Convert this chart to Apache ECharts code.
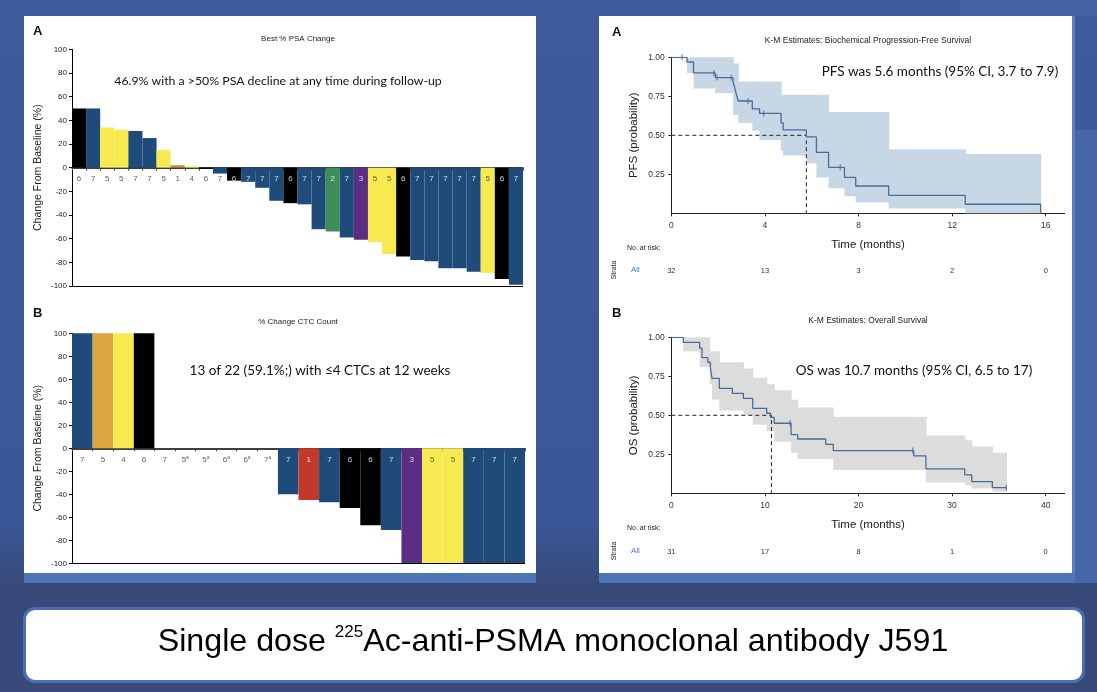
<!DOCTYPE html>
<html><head><meta charset="utf-8">
<script src="https://cdn.jsdelivr.net/npm/echarts@6/dist/echarts.min.js"></script>
<style>
html,body{margin:0;padding:0;}
body{width:1097px;height:692px;position:relative;overflow:hidden;background:linear-gradient(#3d5a9b 0%,#3b5797 75%,#374a7a 85%,#36487a 100%);}
.bx{position:absolute;}
#c{position:absolute;left:0;top:0;width:1097px;height:692px;}
</style>
</head><body>
<div class="bx" style="left:960px;top:0;width:137px;height:16px;background:#4562a2"></div>
<div class="bx" style="left:1075px;top:130px;width:22px;height:460px;background:#4766a6"></div>
<div class="bx" style="left:0;top:583px;width:1097px;height:109px;background:#374a7a"></div>
<div class="bx" style="left:24px;top:16px;width:512px;height:557px;background:#fff"></div>
<div class="bx" style="left:24px;top:573px;width:512px;height:10px;background:#4d76b7"></div>
<div class="bx" style="left:599px;top:16px;width:473px;height:557px;background:#fff;border-right:3px solid #5a7dbf"></div>
<div class="bx" style="left:599px;top:573px;width:476px;height:10px;background:#4d76b7"></div>
<div class="bx" style="left:23px;top:607px;width:1056px;height:70px;background:#fff;border:3px solid #4d6db6;border-radius:12px"></div>
<div id="c"></div>
<script>
// ---------------- data ----------------
const psaGroups = ['6','7','5','5','7','7','5','1','4','6','7','6','7','7','7','6','7','7','2','7','3','5','5','6','7','7','7','7','7','5','6','7'];
const psaChange = [50,50,34,32,31,25,15,2,1,-1,-5,-11,-12,-17,-28,-30,-31,-52,-54,-59,-61,-63,-73,-75,-78,-79,-85,-85,-88,-89,-94,-99];
const ctcGroups = ['7','5','4','6','7','5','5','6','6','7','7','1','7','6','6','7','3','5','5','7','7','7'];
const ctcFootnote = [0,0,0,0,0,1,1,1,1,1,0,0,0,0,0,0,0,0,0,0,0,0];
const ctcChange = [100,100,100,100,0,0,0,0,0,0,-40,-45,-47,-52,-67,-71,-100,-100,-100,-100,-100,-100];

const pfsCurve = [[0,1],[0.67,0.97],[0.95,0.90],[1.88,0.87],[2.64,0.84],[2.70,0.81],[2.75,0.78],[2.80,0.75],[2.86,0.72],[3.46,0.67],[3.77,0.64],[4.69,0.58],[4.78,0.535],[5.77,0.49],[6.20,0.39],[6.72,0.295],[7.40,0.23],[7.88,0.175],[9.29,0.115],[12.56,0.058],[15.78,0]];
const pfsCensorT = [0.46,1.82,1.95,2.56,3.28,3.95,7.22];
const pfsCensorS = [1,0.90,0.87,0.87,0.72,0.64,0.295];
const pfsBandT  = [0.67,0.95,1.88,2.64,2.86,3.46,3.77,4.69,4.78,5.77,6.20,6.72,7.40,7.88,9.29,12.56,15.78];
const pfsBandLo = [0.90,0.80,0.77,0.63,0.58,0.53,0.47,0.40,0.37,0.32,0.23,0.16,0.11,0.07,0.03,0,0];
const pfsBandHi = [1,1,1,0.96,0.845,0.845,0.845,0.76,0.76,0.76,0.76,0.65,0.65,0.65,0.41,0.38,0.38];
const pfsMedian = 5.77;
const pfsRiskT = [0,4,8,12,16];
const pfsRisk  = [32,13,3,2,0];

const osCurve = [[0,1],[1.28,0.967],[3.03,0.93],[3.28,0.87],[3.90,0.84],[4.17,0.806],[4.35,0.737],[5.13,0.673],[6.52,0.641],[7.70,0.609],[8.70,0.545],[10.19,0.513],[10.60,0.487],[11.0,0.449],[12.80,0.376],[13.50,0.348],[16.50,0.314],[17.30,0.274],[25.90,0.24],[27.20,0.156],[31.35,0.118],[32.10,0.075],[34.30,0.036],[35.8,0.036]];
const osCensorT = [12.7,25.8,35.8];
const osCensorS = [0.449,0.274,0.036];
const osBandT  = [1.28,3.03,4.10,4.35,5.13,7.70,8.70,10.19,11.0,12.80,13.50,17.30,25.90,27.20,31.35,32.10,34.30,35.8];
const osBandLo = [0.91,0.81,0.70,0.60,0.53,0.50,0.44,0.40,0.33,0.26,0.22,0.15,0.15,0.07,0.05,0.03,0.01,0.01];
const osBandHi = [1,1,0.91,0.91,0.84,0.80,0.74,0.70,0.66,0.60,0.55,0.49,0.49,0.37,0.34,0.30,0.26,0.26];
const osMedian = 10.7;
const osRiskT = [0,10,20,30,40];
const osRisk  = [31,17,8,1,0];

// ---------------- styles ----------------
const B='#1f4b7b', K='#000000', Y='#f6ea50', G='#3f8e58', P='#5b2e84', O='#c98d2e', O2='#dba640', R='#c0392b';
const psaColors = [K,B,Y,Y,B,B,Y,O,Y,K,B,K,B,B,B,K,B,B,G,B,P,Y,Y,K,B,B,B,B,B,Y,K,B];
const ctcColors = [B,O2,Y,K,B,B,B,B,B,B,B,R,B,K,K,B,P,Y,Y,B,B,B];
const FONT = '"Liberation Sans", Arial, sans-serif';
const ANN = 'Lato, "Open Sans", sans-serif';
const CURVE = '#4a6d96';

function labelColor(v, c) {
  return (v > -10 || c === Y || c === O2) ? '#333' : '#ffffff';
}

function waterfallAxes(gi, groups) {
  return {
    x: {
      type: 'category', gridIndex: gi, data: groups.map((g, i) => String(i)),
      axisLine: {onZero: true, lineStyle: {color: '#000', width: 1.5}},
      axisTick: {show: true, length: 3, interval: 0, lineStyle: {color: '#444'}},
      axisLabel: {show: false}
    },
    y: {
      type: 'value', gridIndex: gi, min: -100, max: 100, interval: 20,
      name: 'Change From Baseline (%)', nameLocation: 'middle', nameGap: 28,
      nameTextStyle: {fontSize: 10.5, fontFamily: FONT, color: '#222'},
      axisLine: {show: true, lineStyle: {color: '#000', width: 1}},
      axisTick: {show: true, length: 3, lineStyle: {color: '#000'}},
      axisLabel: {fontSize: 8, fontFamily: FONT, color: '#222', margin: 5},
      splitLine: {show: false}
    }
  };
}

function kmAxes(gi, max, ticks, yName) {
  return {
    x: {
      type: 'value', gridIndex: gi, min: 0, max: max,
      name: 'Time (months)', nameLocation: 'middle', nameGap: 26,
      nameTextStyle: {fontSize: 11.5, fontFamily: FONT, color: '#222'},
      axisLine: {show: true, onZero: false, lineStyle: {color: '#222', width: 1}},
      axisTick: {show: true, length: 3, customValues: ticks, lineStyle: {color: '#222'}},
      axisLabel: {customValues: ticks, fontSize: 8.5, fontFamily: FONT, color: '#333', margin: 8},
      splitLine: {show: false}
    },
    y: {
      type: 'value', gridIndex: gi, min: 0, max: 1,
      name: yName, nameLocation: 'middle', nameGap: 31,
      nameTextStyle: {fontSize: 11.5, fontFamily: FONT, color: '#222'},
      axisLine: {show: true, onZero: false, lineStyle: {color: '#222', width: 1}},
      axisTick: {show: true, length: 3, customValues: [0.25,0.5,0.75,1], lineStyle: {color: '#222'}},
      axisLabel: {customValues: [0.25,0.5,0.75,1], fontSize: 8.5, fontFamily: FONT, color: '#333', margin: 6.5,
        formatter: v => v.toFixed(2)},
      splitLine: {show: false}
    }
  };
}

function riskAxes(gi, max, ticks, risk) {
  return {
    x: {
      type: 'value', gridIndex: gi, min: 0, max: max,
      axisLine: {show: false}, axisTick: {show: false}, splitLine: {show: false},
      axisLabel: {customValues: ticks, fontSize: 7.5, fontFamily: FONT, color: '#333', margin: 0,
        formatter: v => String(risk[ticks.indexOf(v)])}
    },
    y: {type: 'value', gridIndex: gi, show: false, min: 0, max: 1}
  };
}

const wA = waterfallAxes(0, psaGroups);
const wB = waterfallAxes(1, ctcGroups);
const kA = kmAxes(2, 16.81, pfsRiskT, 'PFS (probability)');
const kB = kmAxes(3, 42.03, osRiskT, 'OS (probability)');
const rA = riskAxes(4, 16.81, pfsRiskT, pfsRisk);
const rB = riskAxes(5, 42.03, osRiskT, osRisk);

function barSeries(xi, vals, cols) {
  return {
    type: 'bar', xAxisIndex: xi, yAxisIndex: xi, data: vals, barCategoryGap: '0%',
    itemStyle: {color: p => cols[p.dataIndex]}, silent: true,
    markLine: {silent: true, symbol: 'none', label: {show: false},
      lineStyle: {color: '#000', width: 1.2, type: 'solid'}, data: [{yAxis: -100}]}
  };
}

function groupLabelSeries(xi, groups, vals, cols, foot) {
  return {
    type: 'scatter', xAxisIndex: xi, yAxisIndex: xi, symbolSize: 0, silent: true, z: 10,
    data: groups.map((g, i) => ({value: [i, 0], label: {color: labelColor(vals[i], cols[i])}})),
    label: {show: true, position: 'bottom', distance: 7, fontSize: 8, fontFamily: FONT,
      formatter: p => groups[p.dataIndex] + (foot && foot[p.dataIndex] ? '{s|a}' : ''),
      rich: {s: {fontSize: 5, verticalAlign: 'top'}}}
  };
}

function bandSeries(xi, T, lo, hi, color) {
  const rows = T.slice(0, -1).map((t, i) => [t, T[i + 1], lo[i], hi[i]]);
  return {
    type: 'custom', xAxisIndex: xi, yAxisIndex: xi, silent: true, z: 1,
    data: rows, encode: {x: [0, 1], y: [2, 3]},
    renderItem: function (params, api) {
      const a = api.coord([api.value(0), api.value(3)]);
      const b = api.coord([api.value(1), api.value(2)]);
      return {type: 'rect', shape: {x: a[0], y: a[1], width: b[0] - a[0] + 0.6, height: b[1] - a[1]},
        style: {fill: color}};
    }
  };
}

function kmSeries(xi, curve, cT, cS, median) {
  return [
    {type: 'line', xAxisIndex: xi, yAxisIndex: xi, step: 'end', symbol: 'none', silent: true, z: 5,
      data: curve, lineStyle: {color: CURVE, width: 1.3}},
    {type: 'scatter', xAxisIndex: xi, yAxisIndex: xi, symbol: 'rect', symbolSize: [1.2, 6], silent: true, z: 6,
      data: cT.map((t, i) => [t, cS[i]]), itemStyle: {color: CURVE}},
    {type: 'line', xAxisIndex: xi, yAxisIndex: xi, symbol: 'none', silent: true, z: 4,
      data: [[0, 0.5], [median, 0.5], [median, 0]], lineStyle: {color: '#222', width: 1, type: [4, 3]}}
  ];
}

function txt(x, y, text, size, opts) {
  return {type: 'text', x: x, y: y, silent: true, z: 100,
    style: Object.assign({text: text, fontSize: size, fontFamily: FONT, fill: '#222', align: 'left', verticalAlign: 'middle'}, opts || {})};
}

const chart = echarts.init(document.getElementById('c'), null, {renderer: 'canvas'});
chart.setOption({
  backgroundColor: 'transparent',
  animation: false,
  grid: [
    {left: 72, top: 49.3, width: 451, height: 236.7},
    {left: 72, top: 333.3, width: 453, height: 230},
    {left: 671.3, top: 57.3, width: 393.4, height: 156},
    {left: 671.3, top: 337.3, width: 393.4, height: 156},
    {left: 671.3, top: 262.5, width: 393.4, height: 4},
    {left: 671.3, top: 543.5, width: 393.4, height: 4}
  ],
  xAxis: [wA.x, wB.x, kA.x, kB.x, rA.x, rB.x],
  yAxis: [wA.y, wB.y, kA.y, kB.y, rA.y, rB.y],
  series: [
    barSeries(0, psaChange, psaColors),
    barSeries(1, ctcChange, ctcColors),
    groupLabelSeries(0, psaGroups, psaChange, psaColors, null),
    groupLabelSeries(1, ctcGroups, ctcChange, ctcColors, ctcFootnote),
    bandSeries(2, pfsBandT, pfsBandLo, pfsBandHi, '#c7d7e5'),
    bandSeries(3, osBandT, osBandLo, osBandHi, '#dcdcdc'),
    ...kmSeries(2, pfsCurve, pfsCensorT, pfsCensorS, pfsMedian),
    ...kmSeries(3, osCurve, osCensorT, osCensorS, osMedian)
  ],
  graphic: [
    txt(33, 31, 'A', 13, {fontWeight: 'bold', fill: '#111'}),
    txt(33, 313, 'B', 13, {fontWeight: 'bold', fill: '#111'}),
    txt(612, 32, 'A', 13, {fontWeight: 'bold', fill: '#111'}),
    txt(612, 313, 'B', 13, {fontWeight: 'bold', fill: '#111'}),
    txt(298, 39, 'Best % PSA Change', 8, {align: 'center'}),
    txt(298, 322, '% Change CTC Count', 8, {align: 'center'}),
    txt(868, 41, 'K-M Estimates: Biochemical Progression-Free Survival', 8.5, {align: 'center'}),
    txt(868, 321, 'K-M Estimates: Overall Survival', 8.5, {align: 'center'}),
    txt(278, 81, '46.9% with a >50% PSA decline at any time during follow-up', 12.3, {align: 'center', fontFamily: ANN, fill: '#111'}),
    txt(320, 371, '13 of 22 (59.1%;) with \u22644 CTCs at 12 weeks', 13.5, {align: 'center', fontFamily: ANN, fill: '#111'}),
    txt(940, 72, 'PFS was 5.6 months (95% CI, 3.7 to 7.9)', 13.5, {align: 'center', fontFamily: ANN, fill: '#111'}),
    txt(914, 371, 'OS was 10.7 months (95% CI, 6.5 to 17)', 13.5, {align: 'center', fontFamily: ANN, fill: '#111'}),
    txt(627, 248, 'No. at risk:', 7, {}),
    txt(627, 528, 'No. at risk:', 7, {}),
    txt(631, 270, 'All', 8, {fill: '#4a79b0'}),
    txt(631, 551, 'All', 8, {fill: '#4a79b0'}),
    {type: 'text', x: 614, y: 270, rotation: Math.PI / 2, silent: true, z: 100,
      style: {text: 'Strata', fontSize: 7, fontFamily: FONT, fill: '#222', align: 'center', verticalAlign: 'middle'}},
    {type: 'text', x: 614, y: 551, rotation: Math.PI / 2, silent: true, z: 100,
      style: {text: 'Strata', fontSize: 7, fontFamily: FONT, fill: '#222', align: 'center', verticalAlign: 'middle'}},
    {type: 'text', x: 553, y: 642, silent: true, z: 100,
      style: {text: '{a|Single dose }{s|225}{a|Ac-anti-PSMA monoclonal antibody J591}', align: 'center', verticalAlign: 'middle',
        rich: {a: {fontSize: 32.2, lineHeight: 36, fontFamily: FONT, fill: '#000'},
               s: {fontSize: 17, lineHeight: 17, fontFamily: FONT, fill: '#000', verticalAlign: 'top'}}}}
  ]
});
</script>
</body></html>
